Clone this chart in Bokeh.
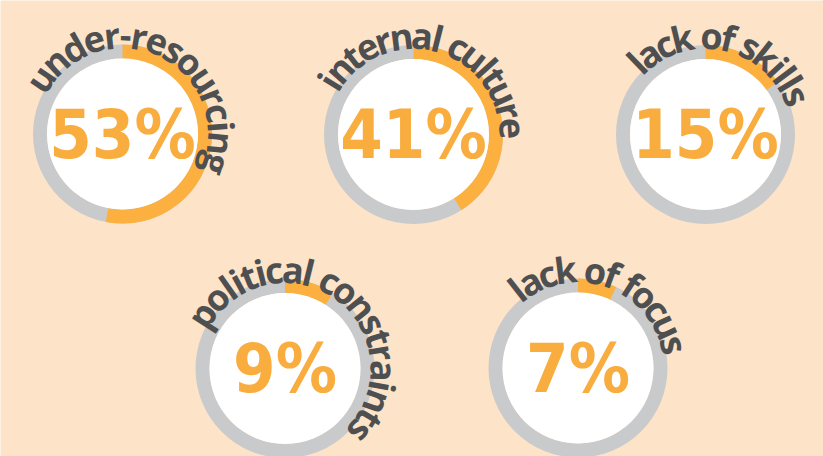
import math
from bokeh.plotting import figure
from bokeh.models import Range1d, ColumnDataSource
from bokeh.core.properties import value
from bokeh.embed import file_html
from bokeh.resources import INLINE

# ---- data ----
labels = ["under-resourcing", "internal culture", "lack of skills",
          "political constraints", "lack of focus"]
percents = [53, 41, 15, 9, 7]

# ---- layout (pixels, image y measured from top) ----
W_PX, H_PX = 823, 456
cx = [122, 413, 705, 284.5, 577.5]
cy_img = [133.5, 134, 134, 368, 367.5]
label_start = [146, 148, 134, 147, 128]   # angle (deg) of first character
label_end = [-18, 3.6, 23, -40, 13.5]     # angle (deg) of last character
R_OUT, R_IN, R_TEXT = 89.5, 75.5, 99

BG = "#FDE3C7"
ORANGE = "#FBB040"
GRAY = "#C9CACC"
TXT = "#4E4F51"
PCT = "#F8AD3E"

PCT_FONT = "DejaVu Sans Condensed, sans-serif"

# approximate advance widths (em) for bold humanist sans
ADV = {"a": .595, "b": .633, "c": .493, "d": .633, "e": .589, "f": .38,
       "g": .562, "h": .642, "i": .303, "k": .622, "l": .303, "n": .642,
       "o": .615, "p": .633, "r": .452, "s": .504, "t": .41, "u": .642,
       " ": .26, "-": .32}

cy = [H_PX - v for v in cy_img]

p = figure(width=W_PX, height=H_PX, output_backend="svg", toolbar_location=None,
           x_range=Range1d(0, W_PX), y_range=Range1d(0, H_PX), min_border=0)
p.axis.visible = False
p.grid.visible = False
p.outline_line_color = None
p.background_fill_color = BG
p.border_fill_color = BG

rings = ColumnDataSource(dict(
    x=cx, y=cy,
    start=[math.pi / 2 - v / 100 * 2 * math.pi for v in percents],
    end=[math.pi / 2] * len(percents),
    txt=[f"{v}%" for v in percents],
))

p.annulus(x="x", y="y", inner_radius=R_IN, outer_radius=R_OUT, source=rings,
          fill_color=GRAY, line_color=None)
p.annular_wedge(x="x", y="y", inner_radius=R_IN, outer_radius=R_OUT,
                start_angle="start", end_angle="end", direction="anticlock",
                source=rings, fill_color=ORANGE, line_color=None)
p.circle(x="x", y="y", radius=R_IN, source=rings, fill_color="white", line_color=None)

p.text(x="x", y="y", text="txt", source=rings, text_align="center",
       text_baseline="middle", text_color=PCT, text_font_size="68px",
       text_font=value(PCT_FONT), text_font_style="bold")

# curved labels, one character at a time
xs, ys, ts, angs = [], [], [], []
for lab, x0, y0, a0, a1 in zip(labels, cx, cy, label_start, label_end):
    adv = [ADV.get(ch, .55) for ch in lab]
    centers, acc = [], 0.0
    for w in adv:
        centers.append(acc + w / 2)
        acc += w
    c0, c1 = centers[0], centers[-1]
    for ch, c in zip(lab, centers):
        if ch == " ":
            continue
        t = math.radians(a0 + (c - c0) / (c1 - c0) * (a1 - a0))
        xs.append(x0 + R_TEXT * math.cos(t))
        ys.append(y0 + R_TEXT * math.sin(t))
        ts.append(ch)
        angs.append(t - math.pi / 2)

chars = ColumnDataSource(dict(x=xs, y=ys, text=ts, angle=angs))
p.text(x="x", y="y", text="text", angle="angle", source=chars,
       text_align="center", text_baseline="alphabetic", text_color=TXT,
       text_font_size="36px", text_font=value("Open Sans"), text_font_style="bold")

open("out.html", "w").write(file_html(p, INLINE))
